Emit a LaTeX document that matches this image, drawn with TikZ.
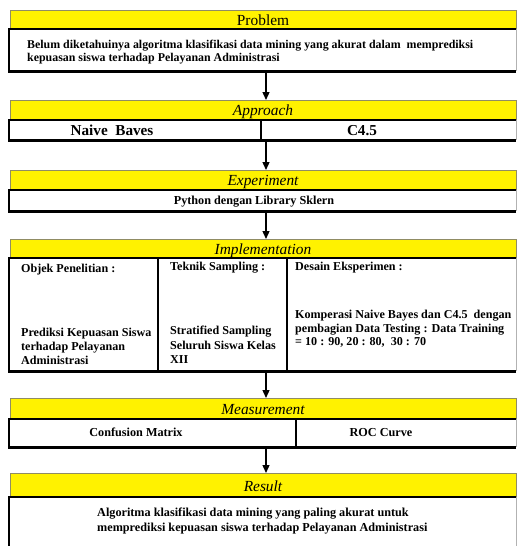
\documentclass[tikz,border=0pt]{standalone}
\usepackage{fontspec}
\setmainfont{Liberation Serif}
\usetikzlibrary{arrows.meta}
\tikzset{
  hdr/.style={fill=yellow, draw=gray!70!olive, line width=0.6pt, anchor=north west, inner sep=0pt},
  hdrtxt/.style={inner sep=0pt, anchor=base, font=\itshape\fontsize{15.4}{17}\selectfont},
  wbox/.style={fill=white, draw=none, anchor=north west, inner sep=0pt},
  heavy/.style={line width=2.8pt, black},
  thinr/.style={line width=0.7pt, gray!60},
  arr/.style={line width=1.3pt, -{Triangle[width=7pt,length=8pt]}},
  txt/.style={inner sep=0pt, font=\bfseries\fontsize{12.2}{14}\selectfont},
  itxt/.style={inner sep=0pt, font=\bfseries\fontsize{12.1}{14}\selectfont},
}
\begin{document}
\begin{tikzpicture}[x=1pt,y=-1pt]
\useasboundingbox (0,0) rectangle (517,546);
\fill[white] (0,0) rectangle (517,546);

% ---------- Problem
\node[hdr, minimum width=506pt, minimum height=19pt] (ph) at (10,10) {};
\node[hdrtxt, font=\fontsize{15.4}{17}\selectfont] (pht) at (263,25) {Problem};
\node[wbox, minimum width=507pt, minimum height=42pt] (pb) at (9,29) {};
\draw[heavy] (pb.north east) -- (pb.north west) -- (pb.south west) -- (pb.south east);
\draw[thinr] (pb.north east) -- (pb.south east);
\node[txt, font=\bfseries\fontsize{11.9}{14}\selectfont, anchor=base west] (pt1) at (27,48) {Belum diketahuinya algoritma klasifikasi data mining yang akurat dalam\ \ memprediksi};
\node[txt, font=\bfseries\fontsize{11.9}{14}\selectfont, anchor=base west] (pt2) at (27,61) {kepuasan siswa terhadap Pelayanan Administrasi};

% ---------- Approach
\node[hdr, minimum width=506pt, minimum height=20pt] (ah) at (10,100) {};
\node[hdrtxt] (aht) at (263,115.5) {Approach};
\node[wbox, minimum width=507pt, minimum height=20pt] (ab) at (9,120) {};
\draw[heavy] (ab.north east) -- (ab.north west) -- (ab.south west) -- (ab.south east);
\draw[thinr] (ab.north east) -- (ab.south east);
\coordinate (ad1) at (261,120);
\coordinate (ad2) at (261,140);
\draw[heavy] (ad1) -- (ad2);
\node[txt, font=\bfseries\fontsize{15.2}{17}\selectfont, anchor=base] (at1) at (112,135) {Naive\ \ Baves};
\node[txt, font=\bfseries\fontsize{15.2}{17}\selectfont, anchor=base] (at2) at (362,135) {C4.5};

% ---------- Experiment
\node[hdr, minimum width=506pt, minimum height=20pt] (eh) at (10,170) {};
\node[hdrtxt] (eht) at (263,185.5) {Experiment};
\node[wbox, minimum width=507pt, minimum height=21pt] (eb) at (9,190) {};
\draw[heavy] (eb.north east) -- (eb.north west) -- (eb.south west) -- (eb.south east);
\draw[thinr] (eb.north east) -- (eb.south east);
\node[txt, anchor=base] (et1) at (254,204) {Python dengan Library Sklern};

% ---------- Implementation
\node[hdr, minimum width=506pt, minimum height=19pt] (ih) at (10,239) {};
\node[hdrtxt] (iht) at (263,254) {Implementation};
\node[wbox, minimum width=507pt, minimum height=113pt] (ib) at (9,258) {};
\draw[heavy] (ib.north east) -- (ib.north west) -- (ib.south west) -- (ib.south east);
\draw[thinr] (ib.north east) -- (ib.south east);
\coordinate (id1a) at (158,258);
\coordinate (id1b) at (158,371);
\coordinate (id2a) at (287,258);
\coordinate (id2b) at (287,371);
\draw[heavy] (id1a) -- (id1b);
\draw[heavy] (id2a) -- (id2b);
\node[itxt, anchor=base west] (ic1a) at (21,272) {Objek Penelitian :};
\node[itxt, anchor=base west] (ic1b) at (21,336) {Prediksi Kepuasan Siswa};
\node[itxt, anchor=base west] (ic1c) at (21,350) {terhadap Pelayanan};
\node[itxt, anchor=base west] (ic1d) at (21,364) {Administrasi};
\node[itxt, anchor=base west] (ic2a) at (170,270) {Teknik Sampling :};
\node[itxt, anchor=base west] (ic2b) at (170,334) {Stratified Sampling};
\node[itxt, anchor=base west] (ic2c) at (170,349) {Seluruh Siswa Kelas};
\node[itxt, anchor=base west] (ic2d) at (170,363) {XII};
\node[itxt, anchor=base west] (ic3a) at (295,270) {Desain Eksperimen :};
\node[itxt, anchor=base west] (ic3b) at (295,318) {Komperasi Naive Bayes dan C4.5\ \ dengan};
\node[itxt, anchor=base west] (ic3c) at (295,332) {pembagian Data Testing : Data Training};
\node[itxt, anchor=base west] (ic3d) at (295,345) {= 10 : 90, 20 : 80,\ \ 30 : 70};

% ---------- Measurement
\node[hdr, minimum width=506pt, minimum height=21pt] (mh) at (10,398) {};
\node[hdrtxt] (mht) at (263,414) {Measurement};
\node[wbox, minimum width=507pt, minimum height=28pt] (mb) at (9,419) {};
\draw[heavy] (mb.north east) -- (mb.north west) -- (mb.south west) -- (mb.south east);
\draw[thinr] (mb.north east) -- (mb.south east);
\coordinate (md1) at (296,419);
\coordinate (md2) at (296,447);
\draw[heavy] (md1) -- (md2);
\node[txt, anchor=base] (mt1) at (136,436) {Confusion Matrix};
\node[txt, anchor=base] (mt2) at (381,436) {ROC Curve};

% ---------- Result
\node[hdr, minimum width=506pt, minimum height=24pt] (rh) at (10,473) {};
\node[hdrtxt] (rht) at (263,491) {Result};
\node[wbox, minimum width=507pt, minimum height=52pt] (rb) at (9,497) {};
\draw[heavy] (rb.south west) -- (rb.north west) -- (rb.north east);
\draw[thinr] (rb.north east) -- (rb.south east);
\node[txt, anchor=base west] (rt1) at (97,516) {Algoritma klasifikasi data mining yang paling akurat untuk};
\node[txt, anchor=base west] (rt2) at (97,531) {memprediksi kepuasan siswa terhadap Pelayanan Administrasi};

% ---------- Arrows
\coordinate (a1) at (266,71);
\coordinate (a2) at (266,141);
\coordinate (a3) at (266,212);
\coordinate (a4) at (266,372);
\coordinate (a5) at (266,447);
\draw[arr] (a1) -- (ah.north -| a1);
\draw[arr] (a2) -- (eh.north -| a2);
\draw[arr] (a3) -- (ih.north -| a3);
\draw[arr] (a4) -- (mh.north -| a4);
\draw[arr] (a5) -- (rh.north -| a5);
\end{tikzpicture}
\end{document}
